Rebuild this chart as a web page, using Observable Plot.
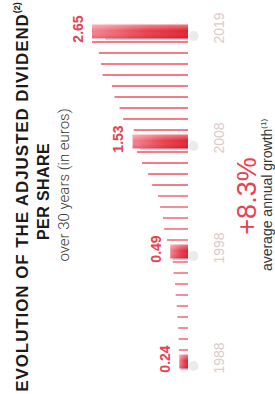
<!DOCTYPE html>
<html>
<head>
<meta charset="utf-8">
<script src="https://cdn.jsdelivr.net/npm/d3@7"></script>
<script src="https://cdn.jsdelivr.net/npm/@observablehq/plot@0.6"></script>
<style>
  html, body { margin: 0; padding: 0; background: #fff; overflow: hidden; width: 275px; height: 394px; }
  #frame { position: absolute; left: 0; top: 0; width: 394px; height: 275px; background: #fff;
           transform-origin: 0 0; transform: translate(0px, 394px) rotate(-90deg); overflow: hidden; }
  .txt { position: absolute; white-space: nowrap; text-align: center; line-height: 1; }
  #chart { position: absolute; left: 0; top: 0; }
</style>
</head>
<body>
<svg width="0" height="0" style="position:absolute">
  <defs>
    <linearGradient id="barGrad" x1="0" y1="1" x2="0" y2="0">
      <stop offset="0%" stop-color="#e1202f"/>
      <stop offset="45%" stop-color="#e8404f"/>
      <stop offset="100%" stop-color="#f3838e"/>
    </linearGradient>
    <linearGradient id="sheen" x1="0" y1="0" x2="1" y2="0">
      <stop offset="0%" stop-color="#a00010" stop-opacity="0.22"/>
      <stop offset="55%" stop-color="#ffffff" stop-opacity="0"/>
      <stop offset="100%" stop-color="#ffffff" stop-opacity="0.4"/>
    </linearGradient>
  </defs>
</svg>
<div id="frame"></div>
<script>
// ---- data ----
const years = ["1988","1989","1990","1991","1992","1993","1994","1995","1996","1997",
               "1998","1999","2000","2001","2002","2003","2004","2005","2006","2007",
               "2008","2010","2011","2012","2013","2014","2015","2016","2017","2018","2019"];
const values = [0.24,0.25,0.26,0.27,0.29,0.31,0.34,0.36,0.40,0.42,
                0.49,0.58,0.66,0.69,0.77,0.83,0.99,1.10,1.27,1.41,
                1.53,1.50,1.79,1.89,2.03,2.10,2.36,2.40,2.46,2.65,2.65];
const highlightYears = ["1988","1998","2008","2019"];
const titleLine1 = "EVOLUTION OF THE ADJUSTED DIVIDEND";
const titleNote1 = "(2)";
const titleLine2 = "PER SHARE";
const subtitle = "over 30 years (in euros)";
const growth = "+8.3%";
const growthLabel = "average annual growth";
const growthNote = "(1)";

const data = years.map((y, i) => ({year: y, value: values[i], hl: highlightYears.includes(y)}));
const thin = data.filter(d => !d.hl);
const hl = data.filter(d => d.hl);

const frame = document.getElementById("frame");
const FONT = '"Liberation Sans", Arial, sans-serif';

function addText(html, cx, baseline, size, opts = {}) {
  const d = document.createElement("div");
  d.className = "txt";
  d.innerHTML = html;
  d.style.fontFamily = opts.family || FONT;
  d.style.fontSize = size + "px";
  d.style.fontWeight = opts.weight || "normal";
  d.style.color = opts.color || "#222";
  if (opts.ls) d.style.letterSpacing = opts.ls + "px";
  d.style.width = "400px";
  d.style.left = (cx - 200) + "px";
  d.style.top = (baseline - 0.8465 * size) + "px";
  frame.appendChild(d);
}

addText(titleLine1 + '<span style="font-size:9px;position:relative;top:-8px;letter-spacing:0">' + titleNote1 + '</span>',
        197, 28, 17, {weight: "bold", color: "#1a1a1a", ls: 0.9});
addText(titleLine2, 202.5, 50, 16, {weight: "bold", color: "#1a1a1a", ls: 0.4});
addText(subtitle, 209, 70, 15, {weight: "300", color: "#333", family: 'Roboto, "Liberation Sans", sans-serif'});
addText(growth, 198, 257, 27, {color: "#e8414f"});
addText(growthLabel + '<span style="font-size:8px;position:relative;top:-6px">' + growthNote + '</span>',
        199, 271.5, 14, {color: "#333"});

const chart = Plot.plot({
  width: 394,
  height: 275,
  style: {background: "transparent", overflow: "visible"},
  x: {type: "band", domain: years, range: [23.9, 370.6], padding: 0, axis: null},
  y: {domain: [0, 2.65], range: [188, 92], axis: null},
  marks: [
    Plot.ruleX(thin, {x: "year", y1: 0, y2: "value", stroke: "#ef5060", strokeWidth: 1.3}),
    Plot.ruleX(hl, {x: "year", y1: 0, y2: d => d.value * 0.86, dx: -8, stroke: "#c8ced8", strokeWidth: 2.5, ariaLabel: "shadow"}),
    Plot.dot(hl, {x: "year", y: 0, dx: -5, dy: 5, r: 5, fill: "#b8bdc5", fillOpacity: 0.3, ariaLabel: "shadow"}),
    Plot.barY(hl, {x: "year", y: "value", fill: "url(#barGrad)", insetLeft: -1.4, insetRight: -1.4}),
    Plot.barY(hl, {x: "year", y: "value", fill: "url(#sheen)", insetLeft: -1.4, insetRight: -1.4}),
    Plot.text(hl, {x: "year", y: "value", text: d => d3.format(".2f")(d.value), dy: -10, dx: 2,
                   lineAnchor: "bottom", fill: "#e8414f", fontWeight: "bold", fontSize: 14, fontFamily: FONT}),
    Plot.text(hl, {x: "year", y: 0, text: "year", dy: 35, dx: 3, lineAnchor: "bottom",
                   fill: "#dccacd", fontSize: 14, fontFamily: FONT})
  ]
});
chart.id = "chart";
frame.appendChild(chart);
d3.select(chart).selectAll('[aria-label="shadow"]').style("filter", "blur(2px)");
</script>
</body>
</html>
